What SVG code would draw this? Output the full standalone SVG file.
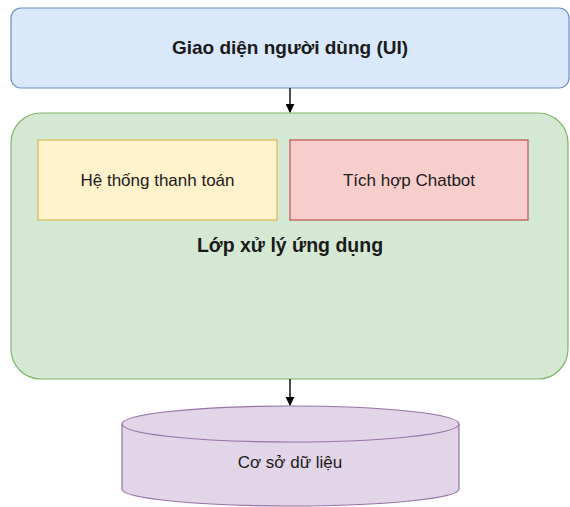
<svg xmlns="http://www.w3.org/2000/svg" width="570" height="507" viewBox="0 0 570 507">
<style>
text{font-family:"Liberation Sans",Arial,sans-serif;fill:#1a1a1a;text-anchor:middle;dominant-baseline:central}
.t{font-weight:bold;font-size:19px}
.b{font-weight:bold;font-size:19.5px}
.n{font-size:17px}
.conn{stroke:#000;stroke-width:1.4;fill:none}
</style>
<defs>
<marker id="ah" viewBox="0 0 10 10" refX="9" refY="5" markerWidth="9" markerHeight="9" markerUnits="userSpaceOnUse" orient="auto">
<path d="M0,0 L10,5 L0,10 z" fill="#000"/>
</marker>
</defs>
<rect width="570" height="507" fill="#fff"/>
<g id="ui">
<rect x="11" y="8" width="558" height="80" rx="10" fill="#dae8fc" stroke="#6c8ebf" stroke-width="1.2"/>
<text class="t" x="290" y="47">Giao diện người dùng (UI)</text>
</g>
<g id="app">
<rect x="11" y="113" width="557" height="266" rx="30" fill="#d5e8d4" stroke="#82b366" stroke-width="1.2"/>
<text class="b" x="290" y="245">Lớp xử lý ứng dụng</text>
</g>
<g id="payment">
<rect x="38" y="140" width="239" height="80" fill="#fff2cc" stroke="#d6b656" stroke-width="1.2"/>
<text class="n" x="157.5" y="180">Hệ thống thanh toán</text>
</g>
<g id="chatbot">
<rect x="290" y="140" width="238" height="80" fill="#f8cecc" stroke="#b85450" stroke-width="1.2"/>
<text class="n" x="409" y="180">Tích hợp Chatbot</text>
</g>
<g id="db">
<path d="M122,424 L122,489 A168.5,17 0 0 0 459,489 L459,424" fill="#e1d5e7" stroke="#9673a6" stroke-width="1.2"/>
<ellipse cx="290.5" cy="424" rx="168.5" ry="18" fill="#e1d5e7" stroke="#9673a6" stroke-width="1.2"/>
<text class="n" x="290" y="462">Cơ sở dữ liệu</text>
</g>
<g id="connectors">
<line class="conn" x1="290" y1="88" x2="290" y2="112" marker-end="url(#ah)"/>
<line class="conn" x1="290" y1="379" x2="290" y2="405" marker-end="url(#ah)"/>
</g>
</svg>
